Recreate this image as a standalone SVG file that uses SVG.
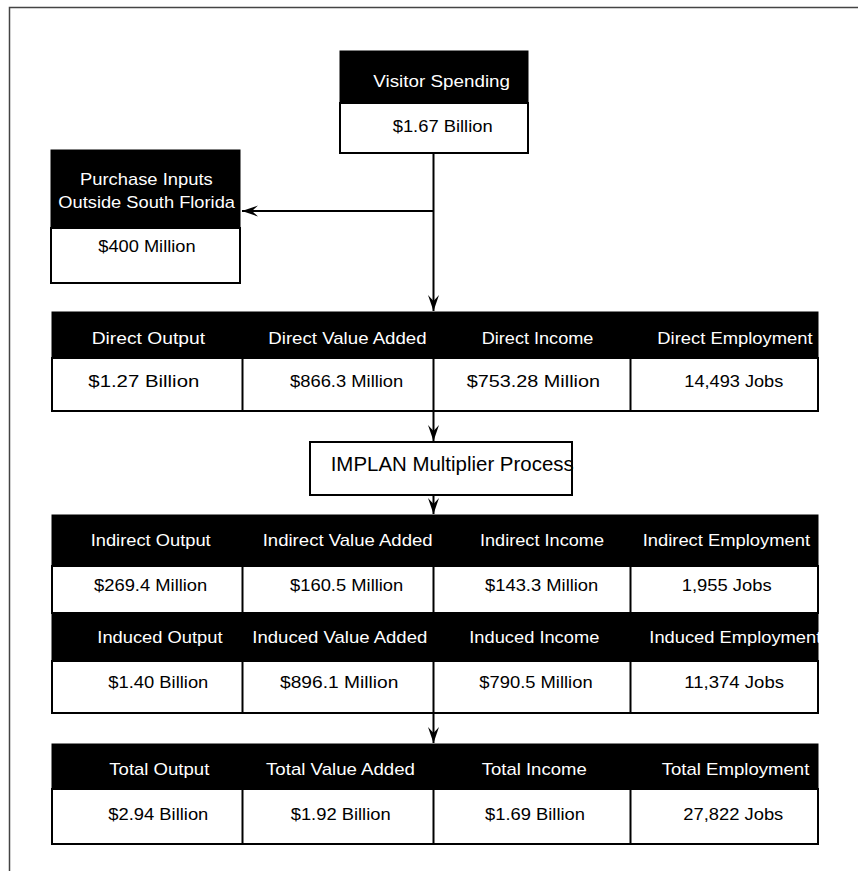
<svg xmlns="http://www.w3.org/2000/svg" width="858" height="871" viewBox="0 0 858 871">
<style>
text{font-family:"Liberation Sans",Arial,sans-serif;font-size:17px}
.h{fill:#fff}
.v{fill:#000}
.blk{fill:#000;stroke:#000;stroke-width:1}
.wht{fill:#fff;stroke:#000;stroke-width:2}
.div{stroke:#000;stroke-width:2;fill:none}
.con{stroke:#000;stroke-width:2;fill:none}
.frame{stroke:#444;stroke-width:1.5;fill:none}
</style>
<defs>
<marker id="ah" viewBox="-17 -7 18 14" refX="0" refY="0" markerWidth="18" markerHeight="14" markerUnits="userSpaceOnUse" orient="auto">
<path d="M0,0 L-16,-5.5 L-10,0 L-16,5.5 Z" fill="#000"/>
</marker>
</defs>
<rect width="858" height="871" fill="#fff"/>
<path class="frame" d="M9.5,871 L9.5,7.5 L858,7.5"/>

<g id="connectors">
<path class="con" d="M433.5,153 L433.5,311" marker-end="url(#ah)"/>
<path class="con" d="M433.5,211 L242,211" marker-end="url(#ah)"/>
<path class="con" d="M433.5,411 L433.5,441" marker-end="url(#ah)"/>
<path class="con" d="M433.5,495 L433.5,514" marker-end="url(#ah)"/>
<path class="con" d="M433.5,713 L433.5,743" marker-end="url(#ah)"/>
</g>

<g id="visitor-spending">
<rect class="blk" x="340" y="51" width="188" height="52"/>
<rect class="wht" x="340" y="103" width="188" height="50"/>
<text class="h" x="373.3" y="86.7" textLength="136.7" lengthAdjust="spacingAndGlyphs">Visitor Spending</text>
<text class="v" x="392.7" y="131.7" textLength="100" lengthAdjust="spacingAndGlyphs">$1.67 Billion</text>
</g>

<g id="purchase-inputs">
<rect class="blk" x="51" y="150" width="189" height="78"/>
<rect class="wht" x="51" y="228" width="189" height="55"/>
<text class="h" x="80" y="185" textLength="132.7" lengthAdjust="spacingAndGlyphs">Purchase Inputs</text>
<text class="h" x="58.3" y="208.3" textLength="176.7" lengthAdjust="spacingAndGlyphs">Outside South Florida</text>
<text class="v" x="98.3" y="251.7" textLength="97.3" lengthAdjust="spacingAndGlyphs">$400 Million</text>
</g>

<g id="direct">
<rect class="blk" x="52" y="312" width="766" height="46"/>
<rect class="wht" x="52" y="358" width="766" height="53"/>
<path class="div" d="M242.5,358 L242.5,411 M433.5,358 L433.5,411 M630.5,358 L630.5,411"/>
<text class="h" x="91.7" y="344" textLength="113.3" lengthAdjust="spacingAndGlyphs">Direct Output</text>
<text class="h" x="268.3" y="344" textLength="158.3" lengthAdjust="spacingAndGlyphs">Direct Value Added</text>
<text class="h" x="481.7" y="344" textLength="111.7" lengthAdjust="spacingAndGlyphs">Direct Income</text>
<text class="h" x="657.3" y="344" textLength="155.3" lengthAdjust="spacingAndGlyphs">Direct Employment</text>
<text class="v" x="88.3" y="387.3" textLength="111" lengthAdjust="spacingAndGlyphs">$1.27 Billion</text>
<text class="v" x="290" y="387.3" textLength="113.3" lengthAdjust="spacingAndGlyphs">$866.3 Million</text>
<text class="v" x="466.7" y="387.3" textLength="133.3" lengthAdjust="spacingAndGlyphs">$753.28 Million</text>
<text class="v" x="684.3" y="387.3" textLength="99" lengthAdjust="spacingAndGlyphs">14,493 Jobs</text>
</g>

<g id="implan">
<rect class="wht" x="310" y="442" width="262" height="53"/>
<text class="v" x="330.7" y="470.7" style="font-size:21px" textLength="243" lengthAdjust="spacingAndGlyphs">IMPLAN Multiplier Process</text>
</g>

<g id="indirect">
<rect class="blk" x="52" y="515" width="766" height="51"/>
<rect class="wht" x="52" y="566" width="766" height="47"/>
<path class="div" d="M242.5,566 L242.5,613 M433.5,566 L433.5,613 M630.5,566 L630.5,613"/>
<text class="h" x="90.7" y="545.7" textLength="120" lengthAdjust="spacingAndGlyphs">Indirect Output</text>
<text class="h" x="262.7" y="545.7" textLength="170" lengthAdjust="spacingAndGlyphs">Indirect Value Added</text>
<text class="h" x="480" y="545.7" textLength="124" lengthAdjust="spacingAndGlyphs">Indirect Income</text>
<text class="h" x="642.7" y="545.7" textLength="167.3" lengthAdjust="spacingAndGlyphs">Indirect Employment</text>
<text class="v" x="94" y="590.7" textLength="113.3" lengthAdjust="spacingAndGlyphs">$269.4 Million</text>
<text class="v" x="290" y="590.7" textLength="113.3" lengthAdjust="spacingAndGlyphs">$160.5 Million</text>
<text class="v" x="485" y="590.7" textLength="113.3" lengthAdjust="spacingAndGlyphs">$143.3 Million</text>
<text class="v" x="681.7" y="590.7" textLength="90" lengthAdjust="spacingAndGlyphs">1,955 Jobs</text>
</g>

<g id="induced">
<rect class="blk" x="52" y="613" width="766" height="48"/>
<rect class="wht" x="52" y="661" width="766" height="52"/>
<path class="div" d="M242.5,661 L242.5,713 M433.5,661 L433.5,713 M630.5,661 L630.5,713"/>
<text class="h" x="97.3" y="643.3" textLength="125.3" lengthAdjust="spacingAndGlyphs">Induced Output</text>
<text class="h" x="252.3" y="643.3" textLength="175" lengthAdjust="spacingAndGlyphs">Induced Value Added</text>
<text class="h" x="469.3" y="643.3" textLength="130" lengthAdjust="spacingAndGlyphs">Induced Income</text>
<text class="h" x="649.3" y="643.3" textLength="172" lengthAdjust="spacingAndGlyphs">Induced Employment</text>
<text class="v" x="108.3" y="688.3" textLength="100" lengthAdjust="spacingAndGlyphs">$1.40 Billion</text>
<text class="v" x="280" y="688.3" textLength="118.3" lengthAdjust="spacingAndGlyphs">$896.1 Million</text>
<text class="v" x="479.3" y="688.3" textLength="113.3" lengthAdjust="spacingAndGlyphs">$790.5 Million</text>
<text class="v" x="684.3" y="688.3" textLength="99.7" lengthAdjust="spacingAndGlyphs">11,374 Jobs</text>
</g>

<g id="total">
<rect class="blk" x="52" y="744" width="766" height="45"/>
<rect class="wht" x="52" y="789" width="766" height="55"/>
<path class="div" d="M242.5,789 L242.5,844 M433.5,789 L433.5,844 M630.5,789 L630.5,844"/>
<text class="h" x="109.3" y="775" textLength="100" lengthAdjust="spacingAndGlyphs">Total Output</text>
<text class="h" x="266" y="775" textLength="149" lengthAdjust="spacingAndGlyphs">Total Value Added</text>
<text class="h" x="481.7" y="775" textLength="105" lengthAdjust="spacingAndGlyphs">Total Income</text>
<text class="h" x="661.7" y="775" textLength="147.7" lengthAdjust="spacingAndGlyphs">Total Employment</text>
<text class="v" x="108.3" y="820" textLength="100" lengthAdjust="spacingAndGlyphs">$2.94 Billion</text>
<text class="v" x="290.7" y="820" textLength="100" lengthAdjust="spacingAndGlyphs">$1.92 Billion</text>
<text class="v" x="485" y="820" textLength="100" lengthAdjust="spacingAndGlyphs">$1.69 Billion</text>
<text class="v" x="683.3" y="820" textLength="100" lengthAdjust="spacingAndGlyphs">27,822 Jobs</text>
</g>
</svg>
